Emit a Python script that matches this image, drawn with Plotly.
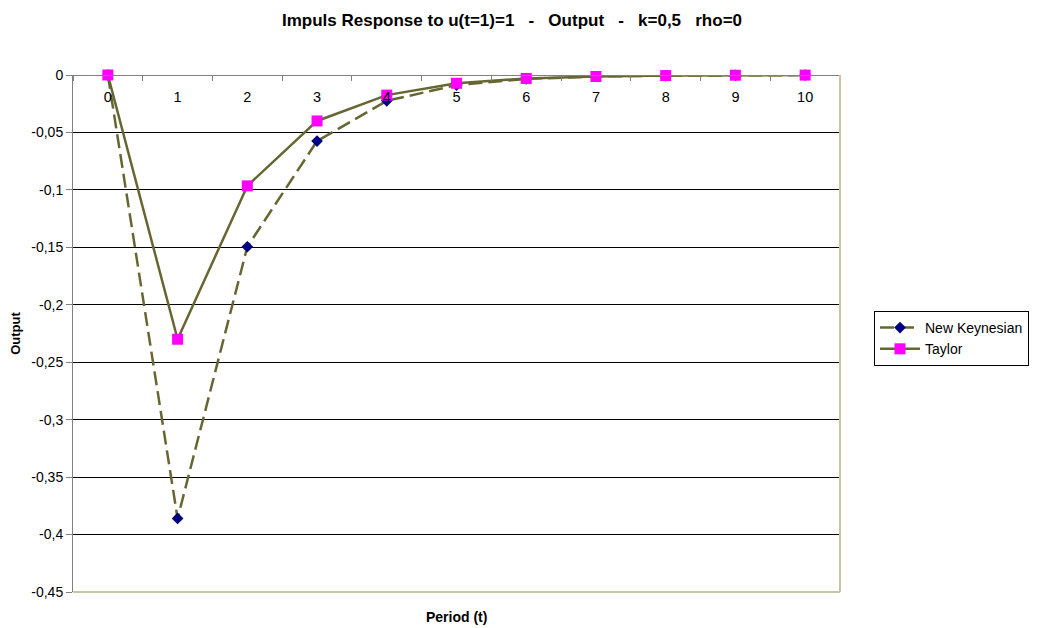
import plotly.graph_objects as go

periods = ["0", "1", "2", "3", "4", "5", "6", "7", "8", "9", "10"]
new_keynesian = [0, -0.386, -0.1495, -0.0575, -0.0225, -0.0088, -0.0034, -0.0013, -0.0005, -0.0002, -0.0001]
taylor = [0, -0.23, -0.0965, -0.040, -0.0175, -0.0072, -0.003, -0.0013, -0.0005, -0.0002, -0.0001]
y_ticks = [0, -0.05, -0.1, -0.15, -0.2, -0.25, -0.3, -0.35, -0.4, -0.45]
y_tick_labels = ["0", "-0,05", "-0,1", "-0,15", "-0,2", "-0,25", "-0,3", "-0,35", "-0,4", "-0,45"]

line_col = "#666633"
font = "Liberation Sans, Arial, sans-serif"

# page body has an 8px margin, so the figure is 8px smaller and positions are shifted
W, H = 1031, 620
OFF = 8

fig = go.Figure()
fig.add_trace(go.Scatter(
    x=periods, y=new_keynesian, name="New Keynesian", mode="lines+markers",
    line=dict(color=line_col, width=2.5, dash="14px,6px"),
    marker=dict(symbol="diamond", size=9, color="#000080"),
    cliponaxis=False))
fig.add_trace(go.Scatter(
    x=periods, y=taylor, name="Taylor", mode="lines+markers",
    line=dict(color=line_col, width=2.5),
    marker=dict(symbol="square", size=11, color="#FF00FF"),
    cliponaxis=False))

fig.update_layout(
    width=W, height=H,
    margin=dict(l=73 - OFF, r=W - (840 - OFF), t=75 - OFF, b=H - (592 - OFF), autoexpand=False),
    paper_bgcolor="white", plot_bgcolor="white",
    font=dict(family=font, size=14, color="black"),
    title=dict(text="<b>Impuls Response to u(t=1)=1   -   Output   -   k=0,5   rho=0</b>",
               x=(512 - OFF) / W, xanchor="center", y=1 - (20 - OFF) / H, yanchor="middle",
               yref="container", font=dict(size=17, family=font)),
    showlegend=True,
    legend=dict(x=(874 - OFF) / W, y=1 - (311 - OFF) / H, xref="container", yref="container",
                xanchor="left", yanchor="top",
                bordercolor="black", borderwidth=1, bgcolor="white",
                font=dict(size=14, family=font), tracegroupgap=0,
                itemwidth=40),
    xaxis=dict(type="category", side="bottom", anchor="free", position=1,
               range=[-0.5, 10.5],
               showline=True, linecolor="#808080", linewidth=1,
               ticks="outside", ticklen=5, tickcolor="#808080", tickson="boundaries",
               ticklabelstandoff=9,
               showgrid=False, zeroline=False,
               tickfont=dict(size=14.5)),
    yaxis=dict(range=[-0.45, 0], tickvals=y_ticks, ticktext=y_tick_labels,
               showline=True, linecolor="#808080", linewidth=1,
               ticks="outside", ticklen=6, tickcolor="#808080",
               showgrid=True, gridcolor="black", gridwidth=1, zeroline=False,
               tickfont=dict(size=14),
               title=dict(text="<b>Output</b>", font=dict(size=13), standoff=11)),
)

fig.add_annotation(text="<b>Period (t)</b>", xref="paper", yref="paper",
                   x=(456 - 73) / 767, y=(592 - 617) / 517, showarrow=False,
                   xanchor="center", yanchor="middle", font=dict(size=14))

border = "#c8c4a4"
fig.add_shape(type="line", xref="paper", yref="paper", x0=0, x1=1, y0=0, y1=0,
              line=dict(color=border, width=2), layer="above")
fig.add_shape(type="line", xref="paper", yref="paper", x0=1, x1=1, y0=0, y1=1,
              line=dict(color=border, width=2), layer="above")

fig.write_html("out.html")
